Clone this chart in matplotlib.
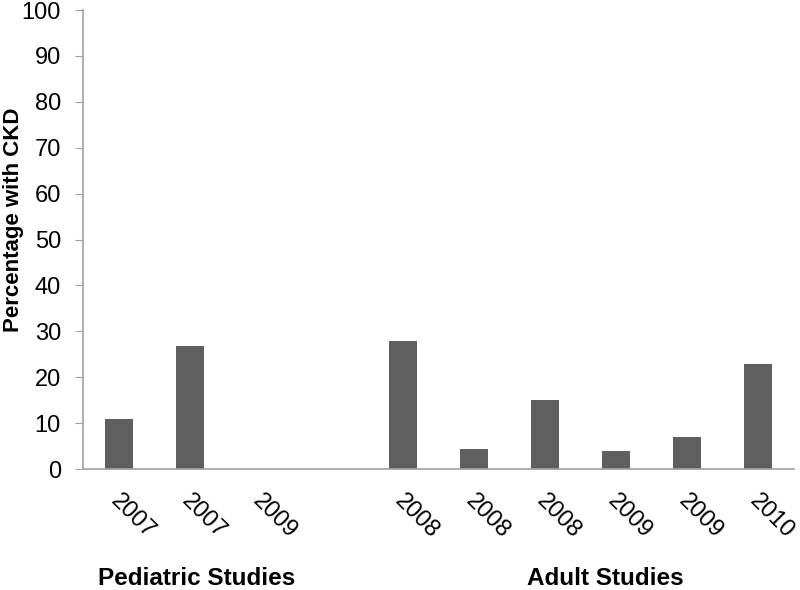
import matplotlib
matplotlib.use("Agg")
import matplotlib.pyplot as plt
import matplotlib.transforms as mtransforms

# study years (blank slot separates pediatric and adult studies)
years = ["2007", "2007", "2009", "", "2008", "2008", "2008", "2009", "2009", "2010"]
pct_ckd = [11, 26.8, 0, 0, 28, 4.3, 15, 3.9, 6.9, 22.8]
groups = ["Pediatric Studies", "Adult Studies"]
group_centers = [1.1, 6.85]

plt.rcParams["font.family"] = ["Liberation Sans", "DejaVu Sans"]

fig = plt.figure(figsize=(8, 5.9), dpi=100)
ax = fig.add_axes([0.104, 0.205, 0.888, 0.778])

x = range(len(years))
ax.bar(x, pct_ckd, width=0.4, color="#5f5f5f")

ax.set_xlim(-0.5, len(years) - 0.5)
ax.set_ylim(0, 100)
ax.set_yticks(range(0, 101, 10))
ax.set_xticks(list(x))
ax.set_xticklabels(years, rotation=-45, ha="left", va="top", fontsize=17,
                   rotation_mode="anchor")
ax.tick_params(axis="x", length=0, pad=15)
ax.tick_params(axis="y", length=6, color="#a0a0a0", labelsize=17, pad=10)

# nudge the slanted year labels a little to the right
shift = mtransforms.ScaledTranslation(3 / 100, 0, fig.dpi_scale_trans)
for lbl in ax.get_xticklabels():
    lbl.set_transform(lbl.get_transform() + shift)

for side in ["top", "right"]:
    ax.spines[side].set_visible(False)
for side in ["left", "bottom"]:
    ax.spines[side].set_color("#a0a0a0")
    ax.spines[side].set_linewidth(1.2)

# y label placed by hand so it sits flush with the left edge
fig.text(0.017, 0.627, "Percentage with CKD", rotation=90, ha="center",
         va="center", fontsize=16, fontweight="bold")

# group labels under the year labels
for name, cx in zip(groups, group_centers):
    ax.text(cx, -0.238, name, transform=ax.get_xaxis_transform(),
            ha="center", va="center", fontsize=17.5, fontweight="bold")

fig.savefig("out.png", dpi=100)
